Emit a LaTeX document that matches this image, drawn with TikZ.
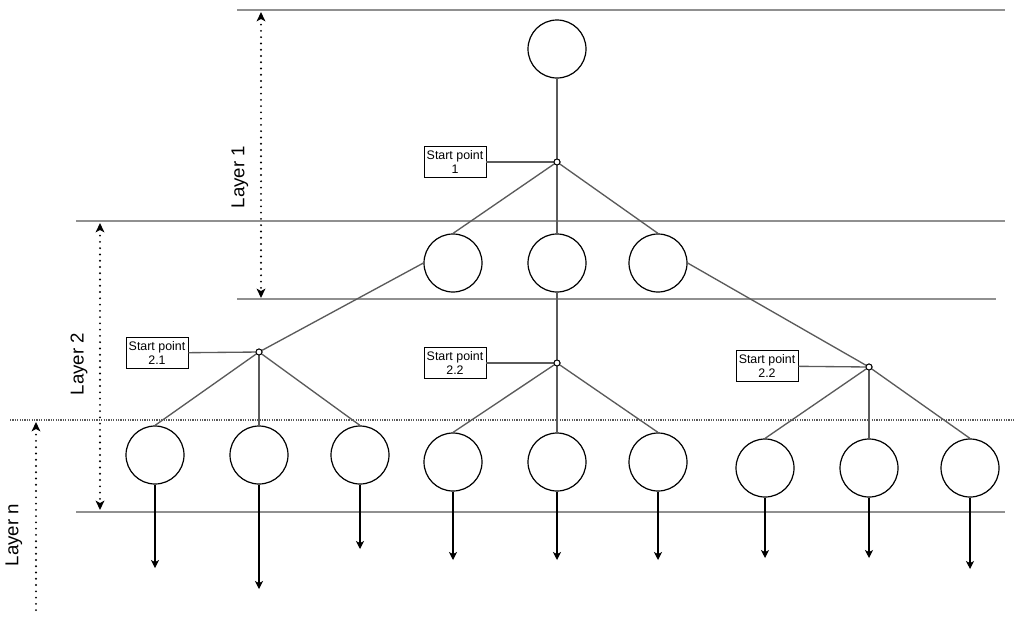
\documentclass[tikz,border=0pt]{standalone}
\usepackage{fontspec}
\setmainfont{Liberation Sans}
\usetikzlibrary{arrows.meta}

\definecolor{guide}{HTML}{909090}
\definecolor{branch}{HTML}{5A5A5A}

\tikzset{
  spantip/.tip={Stealth[length=7pt,width=6.5pt,inset=1.8pt]},
  flowtip/.tip={Stealth[length=6pt,width=6pt,inset=1.6pt]},
  unit/.style={circle, draw=black, line width=0.9pt, minimum size=58*0.75pt, inner sep=0pt},
  hub/.style={circle, draw=black, fill=white, line width=0.7pt, minimum size=4.5pt, inner sep=0pt},
  tag/.style={draw=black, line width=0.7pt, fill=white, align=center, inner sep=0pt,
              minimum width=62*0.75pt, minimum height=31*0.75pt,
              font=\fontsize{9.3}{10.5}\selectfont},
  guideline/.style={draw=guide, line width=0.9pt},
  branchline/.style={draw=branch, line width=1pt},
  outflow/.style={draw=black, line width=0.8pt, -flowtip},
  span/.style={draw=black, line width=1.6pt, line cap=round, dash pattern=on 0pt off 4.7pt},
  layerlabel/.style={rotate=90, font=\fontsize{14}{16}\selectfont},
}

\begin{document}
\begin{tikzpicture}[x=0.75pt, y=-0.75pt]
\useasboundingbox (0,0) rectangle (1019,629);

% layer boundaries
\draw[guideline] (237,10) -- (1005,10);
\draw[guideline] (76,221) -- (1005,221);
\draw[guideline] (237,299) -- (996,299);
\draw[guideline] (76,512) -- (1005,512);
\draw[draw=branch, line width=0.8pt, dash pattern=on 0.9pt off 0.9pt] (10,420) -- (1015,420);

% layer extents
\coordinate (l1a) at (261,12);
\coordinate (l1b) at (261,298);
\coordinate (l2a) at (100,223);
\coordinate (l2b) at (100,510);
\coordinate (lna) at (36,422);
\coordinate (lnb) at (36,616);
\draw[span, spantip-spantip] (l1a) -- (l1b);
\draw[span, spantip-spantip] (l2a) -- (l2b);
\draw[span, spantip-] (lna) -- (lnb);
\node[layerlabel] (lab1) at (240,177) {Layer 1};
\node[layerlabel] (lab2) at (79,364) {Layer 2};
\node[layerlabel] (labn) at (14,535) {Layer n};

% root
\node[unit] (root) at (557,49) {};

% second layer
\node[unit] (a1) at (453,263) {};
\node[unit] (a2) at (557,263) {};
\node[unit] (a3) at (658,263) {};

% last layer
\node[unit] (b1) at (155,455) {};
\node[unit] (b2) at (259,455) {};
\node[unit] (b3) at (360,455) {};
\node[unit] (b4) at (453,462) {};
\node[unit] (b5) at (557,462) {};
\node[unit] (b6) at (658,462) {};
\node[unit] (b7) at (765,468) {};
\node[unit] (b8) at (869,468) {};
\node[unit] (b9) at (970,468) {};

% start points
\node[hub] (s1) at (557,162) {};
\node[hub] (s21) at (259,352) {};
\node[hub] (s22) at (557,363) {};
\node[hub] (s23) at (869,367) {};

\node[tag] (t1) at (455,162) {Start point\\1};
\node[tag] (t21) at (157,353) {Start point\\2.1};
\node[tag] (t22) at (455,363) {Start point\\2.2};
\node[tag] (t23) at (767,366) {Start point\\2.2};

\draw[branchline] (t1) -- (s1);
\draw[branchline] (t21) -- (s21);
\draw[branchline] (t22) -- (s22);
\draw[branchline] (t23) -- (s23);

% branches
\draw[branchline] (root) -- (s1);
\foreach \c in {a1,a2,a3} \draw[branchline] (s1) -- (\c.north);

\draw[branchline] (a1.west) -- (s21);
\draw[branchline] (a2.south) -- (s22);
\draw[branchline] (a3.east) -- (s23);

\foreach \c in {b1,b2,b3} \draw[branchline] (s21) -- (\c.north);
\foreach \c in {b4,b5,b6} \draw[branchline] (s22) -- (\c.north);
\foreach \c in {b7,b8,b9} \draw[branchline] (s23) -- (\c.north);

\foreach \h in {s1,s21,s22,s23} \node[hub] at (\h) {};

% outgoing arrows
\coordinate (e1) at (155,568);
\coordinate (e2) at (259,589);
\coordinate (e3) at (360,549);
\coordinate (e4) at (453,560);
\coordinate (e5) at (557,560);
\coordinate (e6) at (658,560);
\coordinate (e7) at (765,558);
\coordinate (e8) at (869,558);
\coordinate (e9) at (970,569);
\foreach \i in {1,...,9} \draw[outflow] (b\i.south) -- (e\i);

\end{tikzpicture}
\end{document}
